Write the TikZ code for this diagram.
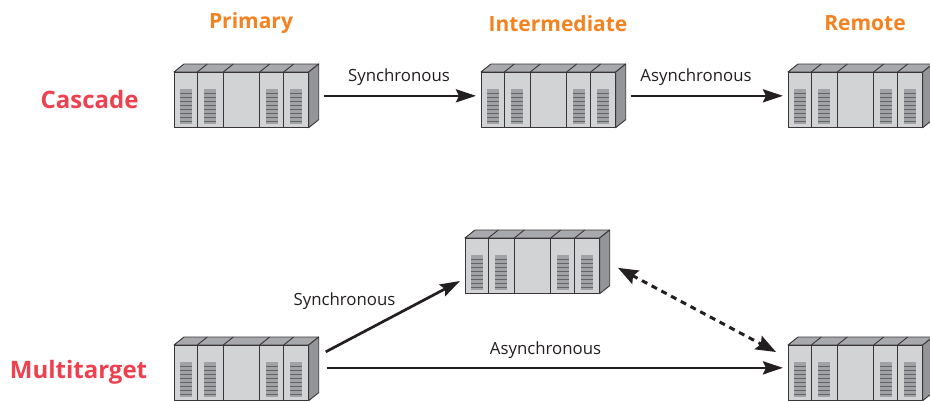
\documentclass[tikz,border=0pt]{standalone}
\usepackage{fontspec}
\setmainfont{Open Sans}
\usetikzlibrary{arrows.meta}
\definecolor{ink}{HTML}{231F20}
\definecolor{headorange}{HTML}{F58220}
\definecolor{titlered}{HTML}{EF4050}
\definecolor{frontgrey}{HTML}{D1D3D4}
\definecolor{topgrey}{HTML}{A7A9AC}
\definecolor{sidegrey}{HTML}{939598}
\definecolor{ventgrey}{HTML}{A0A2A5}
\definecolor{slatgrey}{HTML}{626466}
\tikzset{
  unitbox/.style={inner sep=0pt,outer sep=5pt,minimum width=144.7pt,minimum height=63.7pt,anchor=north west},
  unitline/.style={draw=ink!90!white,line width=0.9pt,line join=round},
  headlabel/.style={font=\fontsize{21}{24}\selectfont\bfseries,text=headorange,inner sep=0pt},
  titlelabel/.style={font=\fontsize{24}{27}\selectfont\bfseries,text=titlered,inner sep=0pt},
  linklabel/.style={font=\fontsize{16.8}{19}\selectfont,text=ink,inner sep=0pt},
  linkarrow/.style={draw=ink,line width=2.7pt,-{Stealth[length=20pt,width=13pt,inset=3pt]}},
  dasharrow/.style={draw=ink,line width=3pt,dash pattern=on 6pt off 5pt,{Stealth[length=20pt,width=15pt,inset=3pt]}-{Stealth[length=20pt,width=15pt,inset=3pt]}}
}
\newcommand{\ventat}[1]{%
  \fill[ventgrey] (#1,25) rectangle ++(12,35);
  \foreach \yy in {29,33,...,57}{\draw[slatgrey,line width=1pt] (#1,\yy) -- ++(12,0);}
}
\newcommand{\storageunit}[3]{%
  \begin{scope}[shift={(#2,#3)}]
    \node[unitbox] (#1) at (-5,-5) {};
    \filldraw[unitline,fill=topgrey] (0,8) -- (10,0) -- (144.7,0) -- (134.7,8) -- cycle;
    \filldraw[unitline,fill=sidegrey] (134.7,8) -- (144.7,0) -- (144.7,55.7) -- (134.7,63.7) -- cycle;
    \filldraw[unitline,fill=frontgrey] (0,8) rectangle (134.7,63.7);
    \foreach \dx in {23.3,49.3,85.7,109.7}{
      \draw[unitline] (\dx,8) -- (\dx,63.7);
      \draw[unitline] (\dx,8) -- (\dx+10,0);
    }
    \ventat{6}\ventat{30}\ventat{92}\ventat{116}
  \end{scope}
}
\begin{document}
\begin{tikzpicture}[x=1pt,y=-1pt]
\clip (0,0) rectangle (930,400);
\fill[white] (0,0) rectangle (930,400);
\node[headlabel] (hp) at (251,23.5) {Primary};
\node[headlabel] (hi) at (558,23.5) {Intermediate};
\node[headlabel] (hr) at (865,23.5) {Remote};
\node[titlelabel] (tc) at (89.5,99) {Cascade};
\node[titlelabel] (tm) at (78.5,372) {Multitarget};
\storageunit{cp}{174}{64}
\storageunit{ci}{481}{64}
\storageunit{cr}{788}{64}
\storageunit{mt}{465}{230}
\storageunit{mp}{174}{337}
\storageunit{mr}{788}{337}
\draw[linkarrow] (cp.east) -- (ci.west);
\draw[linkarrow] (ci.east) -- (cr.west);
\draw[linkarrow] ([shift={(3,-1)}]mp.east) -- ([shift={(0,-1)}]mr.west);
\draw[linkarrow] ([shift={(2,-17)}]mp.east) -- ([shift={(0,-17.7)}]mt.south west);
\draw[dasharrow] ([shift={(3.3,6)}]mt.east) -- ([shift={(-7,20)}]mr.north west);
\node[linklabel] (l1) at (399,77.5) {Synchronous};
\node[linklabel] (l2) at (696,77.5) {Asynchronous};
\node[linklabel] (l3) at (344.5,301.5) {Synchronous};
\node[linklabel] (l4) at (545.5,350.5) {Asynchronous};
\end{tikzpicture}
\end{document}
